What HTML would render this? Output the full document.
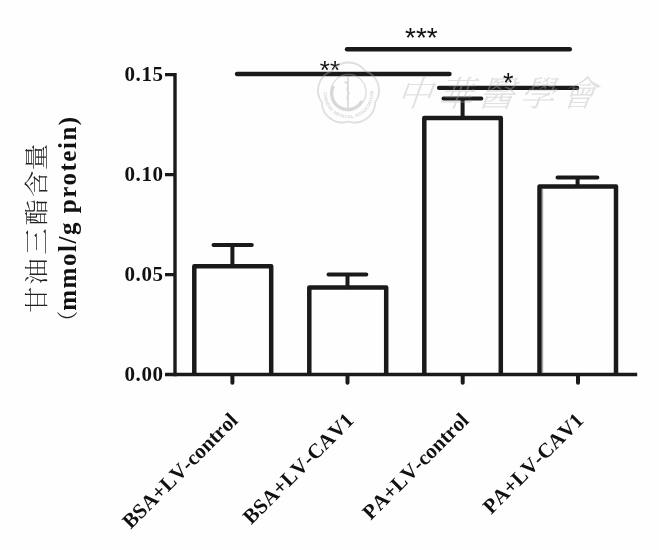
<!DOCTYPE html>
<html>
<head>
<meta charset="utf-8">
<title>Chart</title>
<style>
html,body{margin:0;padding:0;background:#fefefe;}
body{width:659px;height:550px;overflow:hidden;}
svg{display:block;}
.ax{stroke:#1a1a1a;fill:none;}
.lab{font-family:"Liberation Serif",serif;font-weight:bold;fill:#111;}
.star{font-family:"Liberation Sans",sans-serif;fill:#111;}
.cjk{font-family:"Liberation Serif","Noto Serif CJK SC",serif;fill:#222;font-weight:300;}
.wm{font-family:"Liberation Serif","Noto Serif CJK SC",serif;}
</style>
</head>
<body>
<svg width="659" height="550" viewBox="0 0 659 550">
<rect width="659" height="550" fill="#fefefe"/>

<!-- watermark -->
<g id="wm">
<g fill="none" stroke="#e0e0e0">
<path d="M332.02 70.81 A20.5 20.5 0 0 1 364.98 70.81 A20.5 20.5 0 0 1 375.17 102.17 A20.5 20.5 0 0 1 348.50 121.54 A20.5 20.5 0 0 1 321.83 102.17 A20.5 20.5 0 0 1 332.02 70.81 Z" stroke-width="1.8"/>
<circle cx="348.5" cy="92" r="17.5" stroke-width="1.4"/>
<path d="M333.5 86 A16 16 0 0 0 362 101" stroke-width="3.2" stroke="#d8d8d8"/>
<path d="M348 77 V108 M344.5 82 C352 84 345 88 348 91 C351 94 345 97 348 100" stroke-width="1.6" stroke="#dadada"/>
<path id="wmarc" d="M325.2 85 A24.8 24.8 0 1 0 371.8 85" stroke="none"/>
</g>
<text font-size="4.6" font-weight="bold" fill="#dcdcdc" letter-spacing="0.25" style="font-family:'Liberation Sans',sans-serif"><textPath href="#wmarc" startOffset="7">CHINESE MEDICAL ASSOCIATION</textPath></text>
<text class="wm" transform="translate(396,106) skewX(-20)" font-size="35" fill="#e1e1e1" letter-spacing="6" font-weight="300">中華醫學會</text>
</g>

<!-- bars -->
<g class="ax" stroke-width="4.5" stroke-linejoin="round">
<path d="M194.3 374 V266.2 H271.2 V374"/>
<path d="M309.3 374 V287.4 H386.2 V374"/>
<path d="M424.3 374 V118.1 H500.8 V374"/>
<path d="M539.5 374 V186.5 H616 V374"/>
</g>
<path d="M542.6 189 V372.5" stroke="#a8a8a8" stroke-width="1.2" fill="none"/>
<!-- error bars -->
<g class="ax" stroke-width="4" stroke-linecap="round">
<path d="M232.4 266 V245 M213.5 244.9 H251.8"/>
<path d="M347.5 287 V274.5 M328.5 274.5 H366.3"/>
<path d="M462.6 118 V98.5 M443.5 98.5 H481.3"/>
<path d="M577.6 186 V177.6 M557.5 177.6 H597.4"/>
</g>
<!-- axes -->
<g class="ax" stroke-width="3.4">
<path d="M175 72.9 V376.2"/>
<path d="M165 374.5 H637.2"/>
<path d="M165 74.6 H175 M165 174.6 H175 M165 274.6 H175"/>
<path d="M232.4 376 V382.8 M347.5 376 V382.8 M462.7 376 V382.8 M578 376 V382.8" stroke-linecap="round" stroke-width="4"/>
</g>
<!-- sig lines -->
<g class="ax" stroke-width="4.4" stroke-linecap="round">
<path d="M237 74 H449.5"/>
<path d="M347 49.2 H569.8"/>
<path d="M439 87.9 H577.2" stroke-width="4.2"/>
</g>
<g class="star">
<text x="405" y="46.5" font-size="28">***</text>
<text x="319.8" y="79.2" font-size="26">**</text>
<text x="503" y="92" font-size="27">*</text>
</g>

<!-- watermark overlay (faint, above the lines) -->
<use href="#wm" opacity="0.3"/>

<!-- y tick labels -->
<g class="lab" font-size="21" text-anchor="end" letter-spacing="0.6">
<text x="163.6" y="81.2">0.15</text>
<text x="163.6" y="181.2">0.10</text>
<text x="163.6" y="281.2">0.05</text>
<text x="163.6" y="381.2">0.00</text>
</g>

<!-- y axis title -->
<g transform="translate(45.4,313) rotate(-90) scale(1.1,1)">
<text class="cjk" font-size="24" x="0 25.8 53.05 79.6 105.4 129.8" y="0">甘油三酯含量</text>
</g>
<g transform="translate(76,321.8) rotate(-90)">
<text class="cjk" font-size="21" x="-10.2" y="-0.9">（</text>
<text class="lab" font-size="25" x="11" y="0" letter-spacing="1.54">mmol/g protein)</text>
</g>

<!-- x labels -->
<g class="lab" font-size="21" text-anchor="end" letter-spacing="0" style="font-kerning:none">
<text transform="translate(239,421.5) rotate(-45)">BSA+LV-control</text>
<text transform="translate(355,421.5) rotate(-45)" letter-spacing="0.15">BSA+LV-CAV1</text>
<text transform="translate(470,421.5) rotate(-45)">PA+LV-control</text>
<text transform="translate(584.6,421.5) rotate(-45)">PA+LV-CAV1</text>
</g>
</svg>
</body>
</html>
